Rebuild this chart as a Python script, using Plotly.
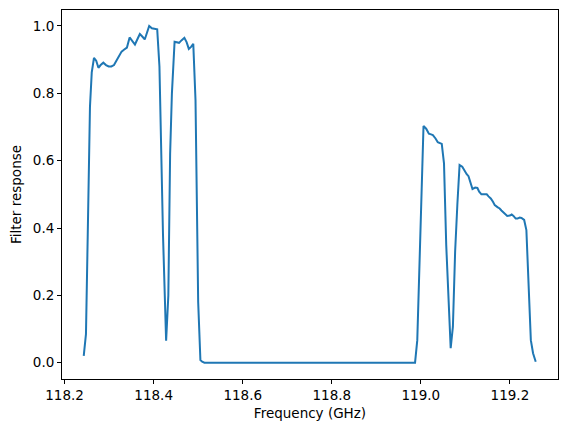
import plotly.graph_objects as go

freq = [118.243, 118.248, 118.252, 118.257, 118.261, 118.266, 118.271, 118.276,
        118.281, 118.287, 118.293, 118.299, 118.305, 118.311, 118.316, 118.322,
        118.328, 118.334, 118.340, 118.346, 118.352, 118.358, 118.364, 118.369,
        118.375, 118.380, 118.385, 118.390, 118.396, 118.402, 118.408, 118.413,
        118.421, 118.428, 118.433, 118.437, 118.441, 118.447, 118.452, 118.457,
        118.463, 118.469, 118.474, 118.479, 118.484, 118.489, 118.494, 118.500,
        118.505, 118.509, 118.514,
        118.987, 118.992, 118.997, 119.002, 119.006, 119.012, 119.018, 119.023,
        119.027, 119.033, 119.038, 119.047, 119.052, 119.057, 119.063, 119.067,
        119.072, 119.077, 119.082, 119.087, 119.093, 119.098, 119.103, 119.107,
        119.112, 119.116, 119.122, 119.127, 119.131, 119.136, 119.142, 119.148,
        119.152, 119.157, 119.162, 119.166, 119.172, 119.177, 119.181, 119.185,
        119.190, 119.194, 119.200, 119.204, 119.208, 119.213, 119.217, 119.222,
        119.226, 119.232, 119.237, 119.242, 119.247, 119.252, 119.258]

response = [0.020, 0.085, 0.380, 0.760, 0.862, 0.905, 0.897, 0.876,
            0.884, 0.891, 0.884, 0.880, 0.880, 0.884, 0.896, 0.912,
            0.924, 0.930, 0.936, 0.966, 0.955, 0.945, 0.962, 0.976,
            0.968, 0.960, 0.980, 1.000, 0.993, 0.991, 0.990, 0.880,
            0.380, 0.065, 0.200, 0.620, 0.800, 0.953, 0.952, 0.950,
            0.958, 0.965, 0.952, 0.932, 0.938, 0.947, 0.780, 0.180,
            0.008, 0.003, 0.000,
            0.000, 0.067, 0.300, 0.550, 0.703, 0.695, 0.680, 0.678,
            0.676, 0.666, 0.655, 0.650, 0.592, 0.350, 0.140, 0.043,
            0.107, 0.330, 0.470, 0.587, 0.582, 0.569, 0.560, 0.554,
            0.530, 0.516, 0.520, 0.519, 0.508, 0.500, 0.500, 0.500,
            0.494, 0.488, 0.478, 0.468, 0.462, 0.458, 0.452, 0.447,
            0.441, 0.436, 0.437, 0.440, 0.436, 0.428, 0.428, 0.431,
            0.430, 0.424, 0.394, 0.250, 0.067, 0.028, 0.003]

x_ticks = [118.2, 118.4, 118.6, 118.8, 119.0, 119.2]
x_tick_labels = ["118.2", "118.4", "118.6", "118.8", "119.0", "119.2"]
y_ticks = [0.0, 0.2, 0.4, 0.6, 0.8, 1.0]
y_tick_labels = ["0.0", "0.2", "0.4", "0.6", "0.8", "1.0"]

fig = go.Figure()
fig.add_trace(go.Scatter(x=freq, y=response, mode="lines", hoverinfo="skip",
                         line=dict(color="#1f77b4", width=2)))

font = dict(family="DejaVu Sans", size=13.5, color="black")
fig.update_layout(
    width=567, height=432,
    margin=dict(l=62, r=9, t=10, b=53),
    paper_bgcolor="white", plot_bgcolor="white",
    showlegend=False,
    font=font,
    xaxis=dict(range=[118.1942, 119.308], tickvals=x_ticks, ticktext=x_tick_labels,
               ticks="outside", ticklen=4, tickcolor="black", tickwidth=1,
               showline=True, linecolor="black", linewidth=1, mirror=True,
               showgrid=False, zeroline=False, automargin=False,
               title=dict(text="Frequency (GHz)", standoff=6, font=font)),
    yaxis=dict(range=[-0.0484, 1.0475], tickvals=y_ticks, ticktext=y_tick_labels,
               ticks="outside", ticklen=4, tickcolor="black", tickwidth=1,
               showline=True, linecolor="black", linewidth=1, mirror=True,
               showgrid=False, zeroline=False, automargin=False,
               title=dict(text="Filter response", standoff=8, font=font)),
)

fig.write_html("out.html",
               config={"displayModeBar": False, "staticPlot": True},
               post_script="document.body.style.margin='0';document.body.style.overflow='hidden';")
